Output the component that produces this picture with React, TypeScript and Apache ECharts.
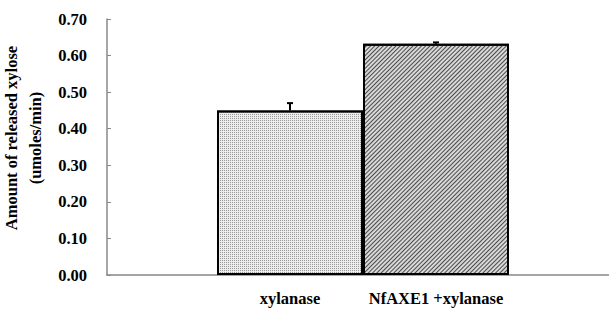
import React, { useEffect, useRef } from "react";
import * as echarts from "echarts";

const categories = ["xylanase", "NfAXE1 +xylanase"];
const values = [0.45, 0.632];
const errors = [0.02, 0.004];
const yTicks = [0, 0.1, 0.2, 0.3, 0.4, 0.5, 0.6, 0.7];

const FONT = "Liberation Serif";

export default function App() {
  const ref = useRef<HTMLDivElement>(null);
  useEffect(() => {
    if (!ref.current) return;
    const chart = echarts.init(ref.current, undefined, { renderer: "svg" });
    const yMin = yTicks[0];
    const yMax = yTicks[yTicks.length - 1];
    const barStyles = [
      {
        color: "#ececec",
        borderColor: "#000",
        borderWidth: 2,
        decal: {
          symbol: "rect",
          symbolSize: 1,
          dashArrayX: [1, 1],
          dashArrayY: [1, 1],
          rotation: 0,
          color: "#9a9a9a",
        },
      },
      {
        color: "#d8d8d8",
        borderColor: "#000",
        borderWidth: 2,
        decal: {
          symbol: "rect",
          symbolSize: 1,
          dashArrayX: [1, 0],
          dashArrayY: [1, 2],
          rotation: -Math.PI / 4,
          color: "#4a4a4a",
        },
      },
    ];
    const label = {
      color: "#000",
      fontWeight: "bold",
      fontSize: 16.5,
      fontFamily: FONT,
    };
    chart.setOption({
      animation: false,
      backgroundColor: "#fff",
      textStyle: { fontFamily: FONT },
      grid: [
        { left: 107, right: 0, top: 19, bottom: 34, outerBoundsMode: "none", containLabel: false },
        { left: 217, width: 292, top: 19, bottom: 34, outerBoundsMode: "none", containLabel: false },
      ],
      xAxis: [
        {
          type: "category",
          gridIndex: 0,
          data: [""],
          axisLine: { show: true, lineStyle: { color: "#888", width: 1.5 } },
          axisTick: { show: false },
          axisLabel: { show: false },
        },
        {
          type: "category",
          gridIndex: 1,
          data: categories,
          axisLine: { show: false },
          axisTick: { show: false },
          axisLabel: { ...label, margin: 15, interval: 0 },
        },
      ],
      yAxis: [
        {
          type: "value",
          gridIndex: 0,
          min: yMin,
          max: yMax,
          interval: 0.1,
          name: "Amount of released xylose\n(umoles/min)",
          nameLocation: "middle",
          nameGap: 49,
          nameTextStyle: { ...label, lineHeight: 24, padding: [0, 0, 0, 18] },
          axisLine: { show: true, lineStyle: { color: "#888", width: 1.5 } },
          axisTick: { show: true, inside: true, length: 4, lineStyle: { color: "#888" } },
          axisLabel: {
            ...label,
            margin: 20,
            formatter: (v: number) => v.toFixed(2),
          },
          splitLine: { show: false },
        },
        {
          type: "value",
          gridIndex: 1,
          min: yMin,
          max: yMax,
          show: false,
          splitLine: { show: false },
        },
      ],
      series: [
        ...values.map((v, i) => ({
          type: "bar",
          xAxisIndex: 1,
          yAxisIndex: 1,
          barCategoryGap: "0%",
          barGap: "-100%",
          itemStyle: barStyles[i],
          data: values.map((_, j) => (j === i ? v : "-")),
          z: 2,
        })),
        {
          type: "custom",
          xAxisIndex: 1,
          yAxisIndex: 1,
          z: 3,
          data: values.map((v, i) => [i, v, errors[i]]),
          renderItem: (params: any, api: any) => {
            const base = api.coord([api.value(0), api.value(1)]);
            const top = api.coord([api.value(0), api.value(1) + api.value(2)]);
            const style = { stroke: "#000", lineWidth: 2 };
            return {
              type: "group",
              children: [
                { type: "line", shape: { x1: base[0], y1: base[1], x2: top[0], y2: top[1] }, style },
                { type: "line", shape: { x1: top[0] - 3, y1: top[1], x2: top[0] + 3, y2: top[1] }, style },
              ],
            };
          },
        },
      ],
    });
    return () => chart.dispose();
  }, []);
  return (
    <div
      ref={ref}
      style={{ position: "absolute", left: 0, top: 0, width: 609, height: 309 }}
    />
  );
}
